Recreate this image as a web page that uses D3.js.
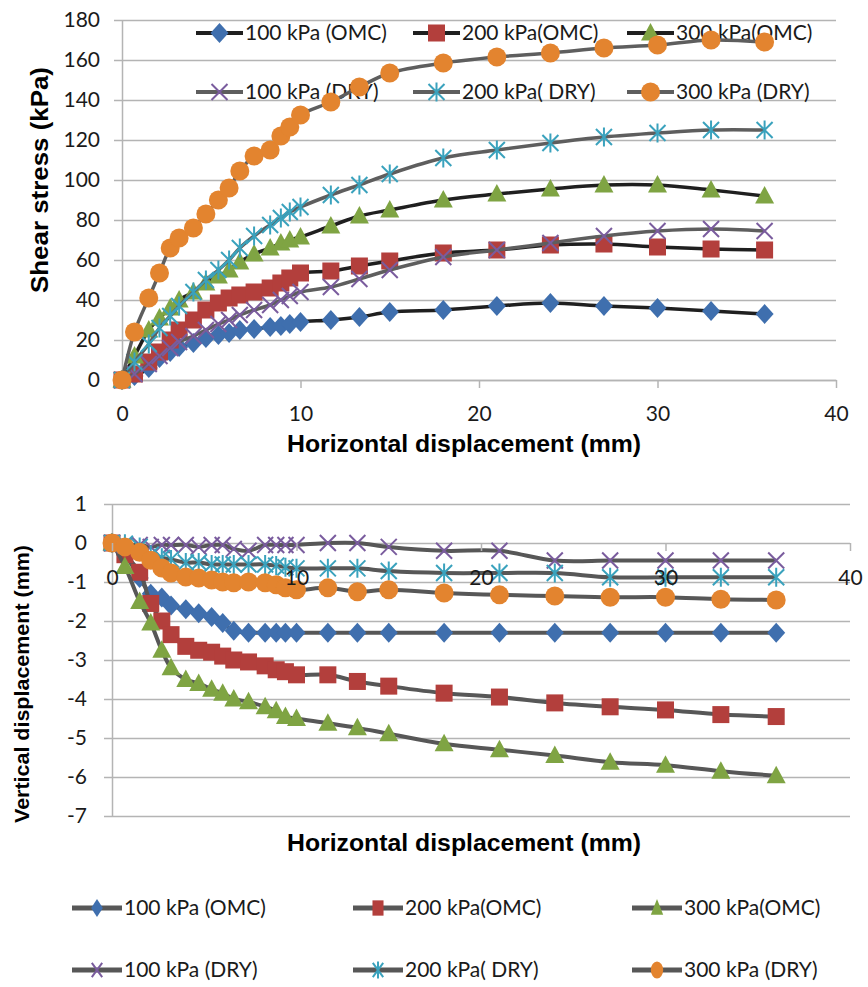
<!DOCTYPE html>
<meta charset="utf-8">
<script src="https://d3js.org/d3.v7.min.js"></script>
<style>
  body { margin: 0; background: #fff; }
  svg text { font-family: Lato, "Open Sans", sans-serif; fill: #1a1a1a; }
  svg text.title { font-family: "Liberation Sans", Arial, sans-serif; font-weight: bold; fill: #000; }
</style>
<div id="my_dataviz"></div>
<script>

// horizontal displacement (mm), shared by all series
var dispX = [0, 0.7, 1.5, 2.1, 2.7, 3.2, 4.0, 4.7, 5.4, 6.0, 6.6, 7.4, 8.3, 8.9, 9.4, 10, 11.7, 13.3, 15, 18, 21, 24, 27, 30, 33, 36];

var seriesNames = ["100 kPa (OMC)", "200 kPa(OMC)", "300 kPa(OMC)", "100 kPa (DRY)", "200 kPa( DRY)", "300 kPa (DRY)"];
var markerColors = ["#3f6fae", "#b33f3c", "#7fa443", "#7a5c9e", "#3aa2bd", "#e3842f"];
var markerShapes = ["diamond", "square", "triangle", "x", "star", "circle"];

// shear stress (kPa)
var shear100OMC = [0, 2, 6, 11, 14, 16.5, 18.5, 21, 22.5, 23.5, 25, 25.5, 26.5, 27, 28, 29, 30, 31.5, 34, 35, 37, 38.5, 37, 36, 34.5, 33];
var shear200OMC = [0, 3, 9, 14, 20, 25, 30, 35, 38.5, 41, 42.5, 44, 46, 48.5, 51, 53.5, 54.5, 57, 59.5, 63.5, 65, 67.5, 68, 66.5, 65.5, 65];
var shear300OMC = [0, 12, 25, 31, 36, 40, 44, 48.5, 52, 55, 59, 63, 66, 68.5, 70, 71.5, 77, 82, 85, 90, 93, 95.5, 97.5, 97.5, 95, 92];
var shear100DRY = [0, 3, 8, 12, 16, 19, 22, 25, 28, 30, 32.5, 35, 37.5, 40, 42, 44, 46.5, 50.5, 55, 61.5, 65, 68.5, 72, 74.5, 75.5, 74.5];
var shear200DRY = [0, 9, 18, 26, 32, 37, 44, 50, 55, 60, 66, 72, 77.5, 81, 84, 86.5, 92.5, 97.5, 103, 111, 115, 118.5, 121.5, 123.5, 125, 125];
var shear300DRY = [0, 24, 41, 53.5, 66, 71, 76, 83, 90, 96, 104.5, 112, 115, 122, 126.5, 132.5, 139, 146.5, 153.5, 158.5, 161.5, 163.5, 166, 167.5, 170, 169];

// vertical displacement (mm)
var vert100OMC = [0, -0.3, -0.9, -1.3, -1.4, -1.6, -1.7, -1.8, -1.9, -2.05, -2.25, -2.3, -2.3, -2.3, -2.3, -2.3, -2.3, -2.3, -2.3, -2.3, -2.3, -2.3, -2.3, -2.3, -2.3, -2.3];
var vert200OMC = [0, -0.3, -0.75, -1.55, -2.0, -2.35, -2.65, -2.75, -2.8, -2.9, -3.0, -3.05, -3.15, -3.25, -3.3, -3.38, -3.38, -3.55, -3.67, -3.85, -3.95, -4.1, -4.2, -4.28, -4.4, -4.45];
var vert300OMC = [0, -0.6, -1.5, -2.05, -2.75, -3.2, -3.5, -3.6, -3.75, -3.85, -4.0, -4.07, -4.2, -4.3, -4.45, -4.5, -4.62, -4.74, -4.89, -5.15, -5.3, -5.45, -5.62, -5.7, -5.85, -5.97];
var vert100DRY = [0, -0.05, -0.05, -0.1, -0.05, -0.05, -0.05, -0.1, -0.05, -0.05, -0.15, -0.2, -0.05, -0.05, -0.05, -0.05, 0, 0, -0.1, -0.2, -0.2, -0.45, -0.45, -0.45, -0.45, -0.45];
var vert200DRY = [0, -0.02, -0.1, -0.3, -0.38, -0.42, -0.5, -0.5, -0.55, -0.55, -0.55, -0.55, -0.55, -0.58, -0.62, -0.65, -0.65, -0.65, -0.72, -0.77, -0.77, -0.77, -0.88, -0.88, -0.88, -0.88];
var vert300DRY = [0, -0.1, -0.24, -0.44, -0.64, -0.77, -0.87, -0.9, -0.95, -1.0, -1.02, -1.0, -1.02, -1.07, -1.15, -1.2, -1.15, -1.25, -1.2, -1.28, -1.33, -1.36, -1.39, -1.39, -1.44, -1.46];

var shearTicks = [0, 20, 40, 60, 80, 100, 120, 140, 160, 180];
var vertTicks = [1, 0, -1, -2, -3, -4, -5, -6, -7];
var dispTicks = [0, 10, 20, 30, 40];

var shearSeries = [shear100OMC, shear200OMC, shear300OMC, shear100DRY, shear200DRY, shear300DRY];
var vertSeries = [vert100OMC, vert200OMC, vert300OMC, vert100DRY, vert200DRY, vert300DRY];

var gridColor = "#b4b4b4";

var svg = d3.select("#my_dataviz")
    .append("svg")
    .attr("width", 868)
    .attr("height", 987);

// plain hyphen minus like the original, not the unicode one d3.format gives
function plainNum(d) { return String(d); }

// draw one marker centred at 0,0; sx/sy scale it
function drawMarker(g, shape, color, sx, sy) {
    if (shape == "diamond") {
        g.append("path").attr("d", "M0," + (-10 * sy) + "L" + (9 * sx) + ",0L0," + (10 * sy) + "L" + (-9 * sx) + ",0Z").attr("fill", color);
    } else if (shape == "square") {
        g.append("rect").attr("x", -8.5 * sx).attr("y", -8.5 * sy).attr("width", 17 * sx).attr("height", 17 * sy).attr("fill", color);
    } else if (shape == "triangle") {
        g.append("path").attr("d", "M0," + (-10 * sy) + "L" + (9.5 * sx) + "," + (7.5 * sy) + "L" + (-9.5 * sx) + "," + (7.5 * sy) + "Z").attr("fill", color);
    } else if (shape == "x") {
        g.append("path").attr("d", "M" + (-8 * sx) + "," + (-8 * sy) + "L" + (8 * sx) + "," + (8 * sy) + "M" + (8 * sx) + "," + (-8 * sy) + "L" + (-8 * sx) + "," + (8 * sy))
            .attr("stroke", color).attr("stroke-width", 2).attr("fill", "none");
    } else if (shape == "star") {
        g.append("path").attr("d", "M" + (-8 * sx) + "," + (-8 * sy) + "L" + (8 * sx) + "," + (8 * sy) + "M" + (8 * sx) + "," + (-8 * sy) + "L" + (-8 * sx) + "," + (8 * sy) + "M0," + (-9.5 * sy) + "L0," + (9.5 * sy))
            .attr("stroke", color).attr("stroke-width", 2).attr("fill", "none");
    } else {
        g.append("ellipse").attr("rx", 9.5 * sx).attr("ry", 9.5 * sy).attr("fill", color);
    }
}

function styleAxis(g) {
    g.selectAll("text").attr("font-size", 21).attr("font-family", null);
    g.selectAll("line").attr("stroke", gridColor).attr("stroke-width", 1.5);
    g.select(".domain").attr("stroke", gridColor).attr("stroke-width", 1.5);
}

function legend(g, x0s, ys, lineLen, lineColors, lineWidth, msx, msy) {
    seriesNames.forEach(function (name, i) {
        var lx = x0s[i % 3], ly = ys[Math.floor(i / 3)];
        var item = g.append("g").attr("transform", "translate(" + lx + "," + ly + ")");
        item.append("line").attr("x1", 0).attr("x2", lineLen)
            .attr("stroke", lineColors[i]).attr("stroke-width", lineWidth);
        drawMarker(item.append("g").attr("transform", "translate(" + lineLen / 2 + ",0)"), markerShapes[i], markerColors[i], msx, msy);
        item.append("text").attr("x", lineLen + 2).attr("dy", "0.35em")
            .attr("font-size", 21).text(name);
    });
}

function plotSeries(g, x, y, series, lineColors, lineWidth) {
    var line = d3.line()
        .x(function (d) { return x(d[0]); })
        .y(function (d) { return y(d[1]); })
        .curve(d3.curveCatmullRom.alpha(0.5));
    series.forEach(function (vals, i) {
        var pts = dispX.map(function (v, j) { return [v, vals[j]]; });
        g.append("path").datum(pts).attr("d", line)
            .attr("fill", "none").attr("stroke", lineColors[i]).attr("stroke-width", lineWidth)
            .attr("stroke-linejoin", "round");
        pts.forEach(function (p) {
            drawMarker(g.append("g").attr("transform", "translate(" + x(p[0]) + "," + y(p[1]) + ")"),
                markerShapes[i], markerColors[i], 1, 1);
        });
    });
}

// ---------------- top chart: shear stress ----------------
var xTop = d3.scaleLinear().domain([0, 40]).range([122, 836]);
var yTop = d3.scaleLinear().domain([0, 180]).range([380, 20]);

// gridlines (also give the short ticks left of the axis)
svg.append("g")
    .attr("transform", "translate(114,0)")
    .call(d3.axisLeft(yTop).tickValues(shearTicks).tickSize(-(836 - 114)).tickFormat(""))
    .call(styleAxis)
    .call(function (g) { g.select(".domain").remove(); });

svg.append("g")
    .attr("transform", "translate(122,0)")
    .call(d3.axisLeft(yTop).tickValues(shearTicks).tickSize(0).tickPadding(22).tickFormat(plainNum))
    .call(styleAxis);

svg.append("g")
    .attr("transform", "translate(0,380)")
    .call(d3.axisBottom(xTop).tickValues(dispTicks).tickSizeInner(8).tickSizeOuter(0).tickPadding(18).tickFormat(plainNum))
    .call(styleAxis);

legend(svg.append("g"), [196, 413, 627], [33, 92], 47,
    ["#1f1f1f", "#1f1f1f", "#1f1f1f", "#5e5e5e", "#5e5e5e", "#5e5e5e"], 4, 1, 1);

plotSeries(svg.append("g"), xTop, yTop, shearSeries,
    ["#1f1f1f", "#1f1f1f", "#1f1f1f", "#5e5e5e", "#5e5e5e", "#5e5e5e"], 3.5);

svg.append("text").attr("class", "title")
    .attr("x", 464).attr("y", 452).attr("text-anchor", "middle")
    .attr("font-size", 23).attr("textLength", 354).attr("lengthAdjust", "spacingAndGlyphs")
    .text("Horizontal displacement (mm)");

svg.append("text").attr("class", "title")
    .attr("transform", "translate(48,180) rotate(-90)").attr("text-anchor", "middle")
    .attr("font-size", 23).attr("textLength", 226).attr("lengthAdjust", "spacingAndGlyphs")
    .text("Shear stress (kPa)");

// ---------------- bottom chart: vertical displacement ----------------
var xBot = d3.scaleLinear().domain([0, 40]).range([112, 850]);
var yBot = d3.scaleLinear().domain([-7, 1]).range([816, 504]);

svg.append("g")
    .attr("transform", "translate(104,0)")
    .call(d3.axisLeft(yBot).tickValues(vertTicks).tickSize(-(850 - 104)).tickFormat(""))
    .call(styleAxis)
    .call(function (g) { g.select(".domain").remove(); });

svg.append("g")
    .attr("transform", "translate(112,0)")
    .call(d3.axisLeft(yBot).tickValues(vertTicks).tickSize(0).tickPadding(25).tickFormat(plainNum))
    .call(styleAxis);

var botLine = "#575757";
plotSeries(svg.append("g"), xBot, yBot, vertSeries,
    [botLine, botLine, botLine, botLine, botLine, botLine], 4);

svg.append("g")
    .attr("transform", "translate(0," + yBot(0) + ")")
    .call(d3.axisBottom(xBot).tickValues(dispTicks).tickSizeInner(8).tickSizeOuter(0).tickPadding(19).tickFormat(plainNum))
    .call(styleAxis)
    .call(function (g) { g.select(".domain").remove(); });

svg.append("text").attr("class", "title")
    .attr("x", 464).attr("y", 851).attr("text-anchor", "middle")
    .attr("font-size", 23).attr("textLength", 354).attr("lengthAdjust", "spacingAndGlyphs")
    .text("Horizontal displacement (mm)");

svg.append("text").attr("class", "title")
    .attr("transform", "translate(29,684) rotate(-90)").attr("text-anchor", "middle")
    .attr("font-size", 21).attr("textLength", 278).attr("lengthAdjust", "spacingAndGlyphs")
    .text("Vertical displacement (mm)");

legend(svg.append("g"), [72, 353, 632], [908, 970], 50,
    [botLine, botLine, botLine, botLine, botLine, botLine], 5, 0.65, 0.9);

</script>
